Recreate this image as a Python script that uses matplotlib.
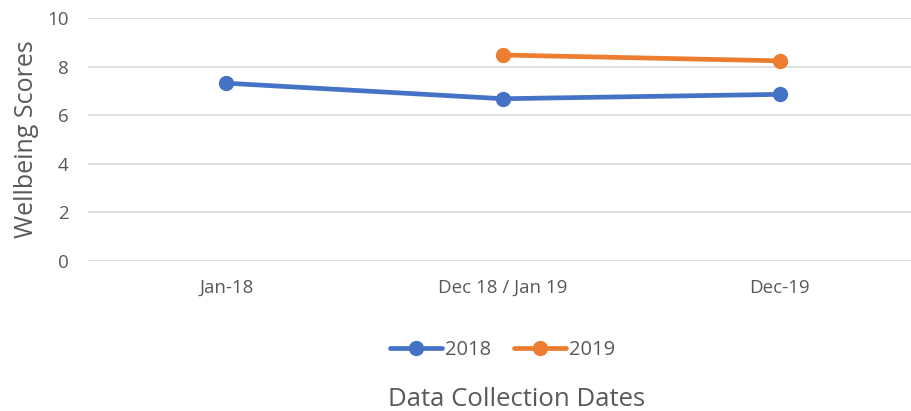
import numpy as np
import matplotlib
matplotlib.use('Agg')
import matplotlib.pyplot as plt

categories = ['Jan-18', 'Dec 18 / Jan 19', 'Dec-19']
series_names = ['2018', '2019']
scores_2018 = [7.32, 6.68, 6.86]
scores_2019 = [np.nan, 8.48, 8.24]
colors = ['#4472C4', '#ED7D31']

plt.rcParams['font.family'] = ['Open Sans', 'DejaVu Sans']
grey = '#595959'

fig = plt.figure(figsize=(9.12, 4.11), dpi=100)
ax = fig.add_axes([0.0965, 0.365, 0.91, 0.591])

x = np.arange(len(categories))
for vals, name, c in zip([scores_2018, scores_2019], series_names, colors):
    ax.plot(x, vals, color=c, lw=3.4, marker='o', ms=10, label=name, solid_capstyle='round')

ax.set_xlim(-0.5, len(categories) - 0.5)
ax.set_ylim(0, 10)
ax.set_yticks(range(0, 11, 2))
ax.set_xticks(x)
ax.set_xticklabels(categories)
ax.grid(axis='y', color='#d9d9d9', lw=1.2)
ax.set_axisbelow(True)
for s in ax.spines.values():
    s.set_visible(False)
ax.tick_params(length=0, colors=grey, labelsize=13.5)
ax.tick_params(axis='x', pad=13)
ax.tick_params(axis='y', pad=14)

ax.set_ylabel('Wellbeing Scores', fontsize=18, color=grey, labelpad=6)
fig.text(0.566, 0.012, 'Data Collection Dates', ha='center', fontsize=18.5, color=grey)

leg = ax.legend(loc='center', bbox_to_anchor=(0.551, 0.148), bbox_transform=fig.transFigure,
                ncol=2, frameon=False, fontsize=14.5, handlelength=2.6, columnspacing=1.1,
                handletextpad=0.15)
for t in leg.get_texts():
    t.set_color(grey)

fig.savefig('out.png', dpi=100)
